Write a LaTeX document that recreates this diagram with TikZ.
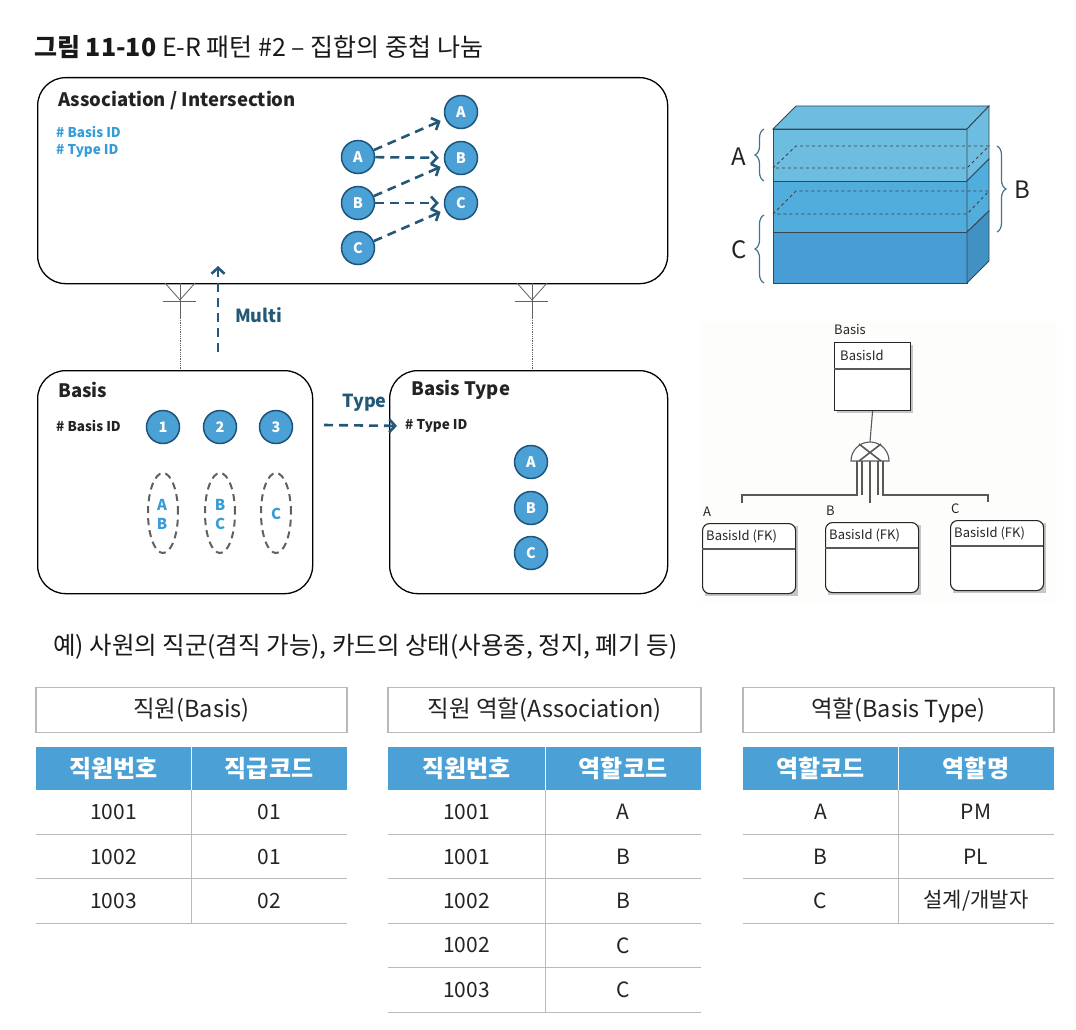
\documentclass[tikz,border=0pt]{standalone}
\usepackage{fontspec}
\setmainfont{Noto Sans CJK KR}
\usetikzlibrary{arrows.meta,decorations.pathreplacing,positioning}

\definecolor{entblue}{RGB}{75,160,213}
\definecolor{entedge}{RGB}{30,85,125}
\definecolor{flowteal}{RGB}{35,88,118}
\definecolor{idblue}{RGB}{55,155,215}
\definecolor{txtgray}{RGB}{35,35,35}
\definecolor{cubetop}{RGB}{108,189,224}
\definecolor{cubemid}{RGB}{80,173,220}
\definecolor{cubelow}{RGB}{72,158,212}
\definecolor{cubeedge}{RGB}{55,70,85}
\definecolor{bracecol}{RGB}{70,115,140}
\definecolor{erpaper}{RGB}{253,253,251}

\newcommand{\fsz}[1]{\fontsize{#1}{#1}\selectfont}

\begin{document}
\begin{tikzpicture}[x=1pt, y=-1pt,
    every node/.style={inner sep=0pt, text=txtgray},
    ent/.style={draw=black, line width=1.3pt, rounded corners=28pt},
    enttitle/.style={anchor=west, font=\fsz{18.5}\bfseries},
    dot/.style={circle, fill=entblue, draw=entedge, line width=1.5pt, minimum size=33pt, text=white, font=\fsz{14.5}\bfseries},
    flow/.style={draw=flowteal, line width=2.6pt, dash pattern=on 9pt off 6pt, -{Straight Barb[length=6pt, width=13pt]}},
    flowlbl/.style={font=\fsz{18}\bfseries, text=flowteal},
    crow/.style={draw=gray!75!black, line width=0.8pt},
    setring/.style={draw=gray!75!black, line width=2pt, dash pattern=on 7pt off 5pt},
    setlbl/.style={font=\fsz{15}\bfseries, text=idblue},
    erline/.style={draw=gray!70!black, line width=1.1pt},
    ertext/.style={anchor=west, font=\fsz{13}, text=gray!30!black},
    tbltitle/.style={draw=gray!55, line width=1.3pt, minimum height=45pt, font=\fsz{23.5}},
    tblhead/.style={fill=entblue, minimum height=43pt, text=white, font=\fsz{24}\bfseries},
    cell/.style={font=\fsz{21}},
    rowline/.style={draw=gray!55, line width=1pt}]

  \useasboundingbox (0,0) rectangle (1076,1030);

  % figure caption
  \node[anchor=west, text=gray!20!black] (caption) at (34,47)
    {\fsz{25}\textbf{그림 11-10} E-R 패턴 \#2 – 집합의 중첩 나눔};

  % entity boxes
  \node[ent, anchor=north west, minimum width=630pt, minimum height=206pt] (assoc) at (37,77) {};
  \node[ent, anchor=north west, minimum width=275pt, minimum height=223pt] (basis) at (37,370) {};
  \node[ent, anchor=north west, minimum width=278pt, minimum height=223pt] (btype) at (389,370) {};

  \node[enttitle] (assocT) at (58,101) {Association / Intersection};
  \node[anchor=west, font=\fsz{13.5}\bfseries, text=idblue] (assocK1) at (56,132) {\# Basis ID};
  \node[anchor=west, font=\fsz{13.5}\bfseries, text=idblue] (assocK2) at (56,151) {\# Type ID};

  \node[dot] (la) at (358,157) {A};
  \node[dot] (lb) at (358,203) {B};
  \node[dot] (lc) at (358,248) {C};
  \node[dot] (ra) at (461,112) {A};
  \node[dot] (rb) at (461,158) {B};
  \node[dot] (rc) at (461,203) {C};

  \draw[flow, shorten >=5pt] (la) -- (ra);
  \draw[flow, shorten >=5pt] (la) -- (rb);
  \draw[flow, shorten >=5pt] (lb) -- (rb);
  \draw[flow, shorten >=5pt] (lb) -- (rc);
  \draw[flow, shorten >=5pt] (lc) -- (rc);

  % crow's feet
  \draw[crow] (165,283) -- (180,300) -- (195,283);
  \draw[crow] (163,301) -- (196,301);
  \draw[crow] (180,283) -- (180,318);
  \draw[crow, densely dotted] (180,318) -- (180,370);
  \draw[crow] (517,283) -- (532,300) -- (547,283);
  \draw[crow] (515,301) -- (548,301);
  \draw[crow] (532,283) -- (532,318);
  \draw[crow, densely dotted] (532,318) -- (532,370);

  \coordinate (multiFrom) at (218,352);
  \coordinate (multiTo) at (218,266);
  \draw[flow] (multiFrom) -- (multiTo);
  \node[flowlbl, anchor=west] (multiL) at (235,315) {Multi};

  % Basis
  \node[enttitle] (basisT) at (58,390) {Basis};
  \node[anchor=west, font=\fsz{13.5}\bfseries] (basisK) at (56,426) {\# Basis ID};
  \node[dot] (n1) at (163,427) {1};
  \node[dot] (n2) at (220,427) {2};
  \node[dot] (n3) at (276,427) {3};
  \draw[setring] (163,513) ellipse [x radius=15pt, y radius=40pt];
  \draw[setring] (220,513) ellipse [x radius=15pt, y radius=40pt];
  \draw[setring] (276,513) ellipse [x radius=15pt, y radius=40pt];
  \node[setlbl] (s1a) at (162,505) {A};
  \node[setlbl] (s1b) at (162,524) {B};
  \node[setlbl] (s2b) at (220,505) {B};
  \node[setlbl] (s2c) at (220,524) {C};
  \node[setlbl] (s3c) at (276,514) {C};

  % Basis Type
  \node[enttitle] (btypeT) at (411,390) {Basis Type};
  \node[anchor=west, font=\fsz{13.5}\bfseries] (btypeK) at (405,426) {\# Type ID};
  \node[dot] (ta) at (531,462) {A};
  \node[dot] (tb) at (531,508) {B};
  \node[dot] (tc) at (531,553) {C};

  \coordinate (typeFrom) at (324,425);
  \draw[flow, shorten >=8pt] (typeFrom) -- (btypeK.west);
  \node[flowlbl, anchor=west] (typeL) at (342,403) {Type};

  % stacked block
  \filldraw[fill=cubetop, draw=cubeedge, line width=0.9pt] (773,129) -- (796,106) -- (989,106) -- (967,129) -- cycle;
  \filldraw[fill=cubetop, draw=cubeedge, line width=0.9pt] (773,129) rectangle (967,181);
  \filldraw[fill=cubemid, draw=cubeedge, line width=0.9pt] (773,181) rectangle (967,232);
  \filldraw[fill=cubelow, draw=cubeedge, line width=0.9pt] (773,232) rectangle (967,283);
  \filldraw[fill=cubetop, draw=cubeedge, line width=0.9pt] (967,129) -- (989,106) -- (989,159) -- (967,181) -- cycle;
  \filldraw[fill=cubemid, draw=cubeedge, line width=0.9pt] (967,181) -- (989,159) -- (989,211) -- (967,232) -- cycle;
  \filldraw[fill=cubelow!92!black, draw=cubeedge, line width=0.9pt] (967,232) -- (989,211) -- (989,261) -- (967,283) -- cycle;
  \draw[gray!50!black, dashed, line width=0.9pt] (773,168) -- (796,146) -- (989,146) -- (967,168) -- cycle;
  \draw[gray!50!black, dashed, line width=0.9pt] (773,214) -- (796,191) -- (989,191) -- (967,214) -- cycle;

  \draw[bracecol, line width=1.2pt, decorate, decoration={brace, amplitude=9pt}] (764,181) -- (764,129);
  \draw[bracecol, line width=1.2pt, decorate, decoration={brace, amplitude=9pt}] (764,283) -- (764,215);
  \draw[bracecol, line width=1.2pt, decorate, decoration={brace, amplitude=9pt}] (997,146) -- (997,232);
  \node[font=\fsz{24}] (cubeA) at (739,157) {A};
  \node[font=\fsz{24}] (cubeC) at (739,250) {C};
  \node[font=\fsz{24}] (cubeB) at (1022,190) {B};

  % IE subtype diagram
  \fill[erpaper] (700,322) rectangle (1057,602);
  \node[ertext] (erBasisL) at (834,330) {Basis};
  \fill[gray!45] (837,345) rectangle (913,413);
  \node[draw=gray!30!black, fill=white, line width=1.1pt, anchor=north west, minimum width=76pt, minimum height=68pt] (erBasis) at (834,342) {};
  \draw[erline] (834,369) -- (910,369);
  \node[ertext] (erBasisK) at (840,355) {BasisId};

  \coordinate (xTop) at (870,442);
  \draw[erline] (erBasis.south) -- (xTop);
  \draw[erline, fill=white] (851,461) arc[start angle=180, end angle=0, radius=19pt] -- cycle;
  \draw[erline, line width=1.6pt] (859,444) -- (881,461) (881,444) -- (859,461);

  \foreach \nm/\lbl/\x/\y in {erA/A/702/523, erB/B/825/522, erC/C/950/520} {
    \fill[gray!45] (\x+3,\y+3) rectangle (\x+96,\y+73);
    \node[draw=gray!30!black, fill=white, line width=1.1pt, rounded corners=7pt, anchor=north west, minimum width=93pt, minimum height=70pt] (\nm) at (\x,\y) {};
    \draw[erline] (\x,\y+26) -- (\x+93,\y+26);
    \node[ertext] (\nm K) at (\x+4,\y+13) {BasisId (FK)};
    \node[ertext] (\nm L) at (\x+1,\y-11) {\lbl};
  }
  \draw[erline] (862,461) -- (862,495) (857,461) -- (857,495) -- (742,495) -- (742,503);
  \draw[erline] (870,461) -- (870,503);
  \draw[erline] (878,461) -- (878,495) (883,461) -- (883,495) -- (988,495) -- (988,502);

  % example line
  \node[anchor=west, font=\fsz{24.5}, text=gray!20!black] (example) at (53,647)
    {예) 사원의 직군(겸직 가능), 카드의 상태(사용중, 정지, 폐기 등)};

  % table: Basis
  \node[tbltitle, minimum width=311pt] (empT) at (191.5,710) {직원(Basis)};
  \node[tblhead, minimum width=155pt] (empH1) at (113.5,768.5) {직원번호};
  \node[tblhead, minimum width=156pt] (empH2) at (269,768.5) {직급코드};
  \draw[white, line width=1pt] (191,747) -- (191,790);
  \foreach \a/\b [count=\r] in {1001/01, 1002/01, 1003/02} {
    \node[cell] (emp\r a) at (113.5,{790+44.4*\r-22.2}) {\a};
    \node[cell] (emp\r b) at (269,{790+44.4*\r-22.2}) {\b};
    \draw[rowline] (36,{790+44.4*\r}) -- (347,{790+44.4*\r});
  }
  \draw[rowline] (191,790) -- (191,923.2);

  % table: Association
  \node[tbltitle, minimum width=313pt] (roleT) at (544.5,710) {직원 역할(Association)};
  \node[tblhead, minimum width=157pt] (roleH1) at (466.5,768.5) {직원번호};
  \node[tblhead, minimum width=156pt] (roleH2) at (623,768.5) {역할코드};
  \draw[white, line width=1pt] (545,747) -- (545,790);
  \foreach \a/\b [count=\r] in {1001/A, 1001/B, 1002/B, 1002/C, 1003/C} {
    \node[cell] (role\r a) at (466.5,{790+44.4*\r-22.2}) {\a};
    \node[cell] (role\r b) at (623,{790+44.4*\r-22.2}) {\b};
    \draw[rowline] (388,{790+44.4*\r}) -- (701,{790+44.4*\r});
  }
  \draw[rowline] (545,790) -- (545,1012);

  % table: Basis Type
  \node[tbltitle, minimum width=311pt] (typeT) at (898.5,710) {역할(Basis Type)};
  \node[tblhead, minimum width=155pt] (typeH1) at (820.5,768.5) {역할코드};
  \node[tblhead, minimum width=156pt] (typeH2) at (976,768.5) {역할명};
  \draw[white, line width=1pt] (898,747) -- (898,790);
  \foreach \a/\b [count=\r] in {A/PM, B/PL, C/{설계/개발자}} {
    \node[cell] (type\r a) at (820.5,{790+44.4*\r-22.2}) {\a};
    \node[cell] (type\r b) at (976,{790+44.4*\r-22.2}) {\b};
    \draw[rowline] (743,{790+44.4*\r}) -- (1054,{790+44.4*\r});
  }
  \draw[rowline] (898,790) -- (898,923.2);
\end{tikzpicture}
\end{document}
